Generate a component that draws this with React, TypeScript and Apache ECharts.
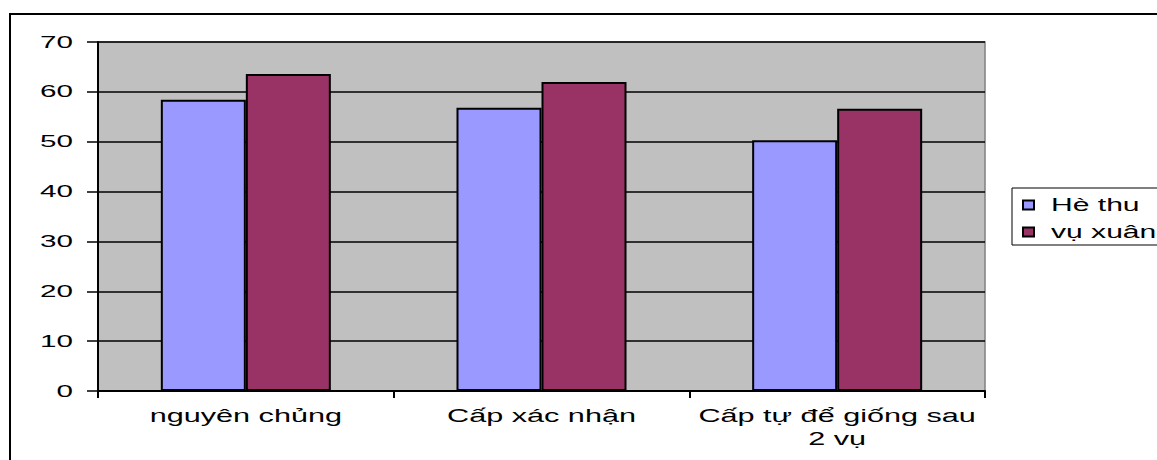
import React, { useEffect, useRef } from "react";
import * as echarts from "echarts";

// Categories and series values
const categories = ["nguyên chủng", "Cấp xác nhận", "Cấp tự để giống sau\n2 vụ"];
const heThu = [58.4, 56.8, 50.3];
const vuXuan = [63.6, 62.0, 56.6];
const seriesNames = ["Hè thu", "vụ xuân"];
const yMin = 0;
const yMax = 70;
const yStep = 10;

const FONT = "'Liberation Sans', Arial, sans-serif";

// Horizontal widening of the lettering (old office-chart look), by text anchor
const WIDEN: Record<string, number> = { end: 1.85, middle: 1.7, start: 1.67 };

function widenTexts(root: HTMLElement | null) {
  if (!root) return;
  root.querySelectorAll("svg text").forEach((node) => {
    const t = node as SVGTextElement;
    let w = Number(t.getAttribute("data-natural-width"));
    if (!w) {
      w = t.getComputedTextLength();
      if (!w) return;
      t.setAttribute("data-natural-width", String(w));
    }
    const anchor = t.getAttribute("text-anchor") || "start";
    const k = WIDEN[anchor] ?? WIDEN.start;
    t.setAttribute("textLength", String(w * k));
    t.setAttribute("lengthAdjust", "spacingAndGlyphs");
  });
}

export default function App() {
  const ref = useRef<HTMLDivElement>(null);

  useEffect(() => {
    if (!ref.current) return;
    const chart = echarts.init(ref.current, undefined, { renderer: "svg" });
    chart.setOption({
      animation: false,
      backgroundColor: "#ffffff",
      textStyle: { fontFamily: FONT },
      graphic: [
        {
          type: "rect",
          shape: { x: 10, y: 14, width: 1200, height: 500 },
          style: { fill: "none", stroke: "#000", lineWidth: 2 },
          silent: true,
        },
      ],
      grid: {
        left: 98,
        right: 172,
        top: 42,
        bottom: 69,
        show: true,
        backgroundColor: "#c0c0c0",
        borderColor: "#808080",
        borderWidth: 1.5,
      },
      legend: {
        orient: "vertical",
        left: 1012,
        top: 188,
        padding: [8, 80, 4, 10],
        borderColor: "#000",
        borderWidth: 1,
        backgroundColor: "#fff",
        itemWidth: 11,
        itemHeight: 9,
        itemGap: 9,
        icon: "rect",
        textStyle: {
          fontSize: 18,
          lineHeight: 16,
          color: "#000",
          fontFamily: FONT,
          padding: [0, 0, 0, 12],
        },
        data: seriesNames,
      },
      xAxis: {
        type: "category",
        data: categories,
        boundaryGap: true,
        axisLine: { show: true, lineStyle: { color: "#000", width: 2 } },
        axisTick: { show: true, alignWithLabel: false, length: 7, lineStyle: { color: "#000", width: 2 } },
        axisLabel: { color: "#000", fontSize: 18, margin: 13, lineHeight: 23, fontFamily: FONT, interval: 0 },
        splitLine: { show: false },
      },
      yAxis: {
        type: "value",
        min: yMin,
        max: yMax,
        interval: yStep,
        axisLine: { show: true, lineStyle: { color: "#000", width: 2 } },
        axisTick: { show: true, length: 11, lineStyle: { color: "#000", width: 1.5 } },
        axisLabel: { color: "#000", fontSize: 16, margin: 25, fontFamily: FONT },
        splitLine: { show: true, lineStyle: { color: "#000", width: 1.5 } },
      },
      series: [
        {
          name: seriesNames[0],
          type: "bar",
          data: heThu,
          barGap: "0%",
          barCategoryGap: "42.5%",
          itemStyle: { color: "#9999ff", borderColor: "#000", borderWidth: 2 },
        },
        {
          name: seriesNames[1],
          type: "bar",
          data: vuXuan,
          barGap: "0%",
          barCategoryGap: "42.5%",
          itemStyle: { color: "#993366", borderColor: "#000", borderWidth: 2 },
        },
      ],
    });
    const el = ref.current;
    widenTexts(el);
    chart.on("finished", () => widenTexts(el));
    const raf = requestAnimationFrame(() => widenTexts(el));
    return () => {
      cancelAnimationFrame(raf);
      chart.dispose();
    };
  }, []);

  return (
    <div
      ref={ref}
      style={{ position: "fixed", left: 0, top: 0, width: 1157, height: 460, background: "#fff" }}
    />
  );
}
